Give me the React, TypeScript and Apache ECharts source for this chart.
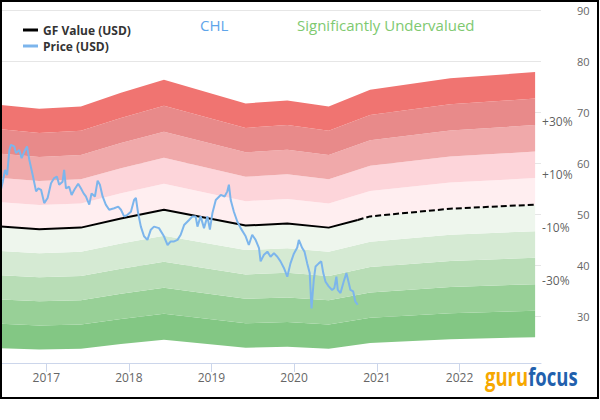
import React, { useEffect, useRef } from 'react';
import * as echarts from 'echarts';

const FONT = '"Open Sans", "DejaVu Sans", sans-serif';

// GF Value (USD)
const gfDates = ['2016-06-15', '2016-12-01', '2017-06-03', '2017-11-27', '2018-06-05', '2019-06-01', '2019-12-02', '2020-06-02', '2020-12-02', '2021-11-21', '2022-12-01'];
const gfValues = [47.6, 47.1, 47.4, 49.2, 50.9, 47.8, 48.2, 47.4, 49.6, 51.1, 51.9];
// point where the solid GF line turns into a dashed projection
const gfSplitDate = '2020-10-08';
const gfSplitValue = 48.9;

// Price (USD)
const priceDates = [
  '2016-06-15','2016-06-23','2016-07-03','2016-07-12','2016-07-22','2016-07-29','2016-08-13','2016-08-20','2016-09-04','2016-09-14','2016-09-26','2016-10-08','2016-10-18','2016-11-02','2016-11-17','2016-11-27','2016-12-09','2016-12-23',
  '2017-01-07','2017-01-22','2017-02-05','2017-02-17','2017-02-27','2017-03-14','2017-03-21','2017-03-29','2017-04-12','2017-04-23','2017-05-05','2017-05-22','2017-06-03','2017-06-15','2017-06-25','2017-07-10','2017-07-20','2017-08-04','2017-08-16','2017-08-26','2017-09-07','2017-09-21','2017-10-06','2017-10-28','2017-11-15','2017-11-27','2017-12-11','2017-12-26',
  '2018-01-10','2018-01-24','2018-02-01','2018-02-11','2018-02-23','2018-03-09','2018-03-24','2018-04-08','2018-04-22','2018-05-14','2018-06-05','2018-06-21','2018-07-05','2018-07-20','2018-08-04','2018-08-18','2018-09-02','2018-09-24','2018-10-09','2018-10-23','2018-10-31','2018-11-14','2018-11-29','2018-12-14','2018-12-25',
  '2019-01-05','2019-01-20','2019-02-11','2019-02-28','2019-03-12','2019-03-19','2019-03-27','2019-04-10','2019-04-25','2019-05-10','2019-06-01','2019-06-15','2019-06-30','2019-07-15','2019-07-30','2019-08-06','2019-08-21','2019-09-05','2019-09-19','2019-10-04','2019-10-19','2019-11-02','2019-11-17','2019-12-02','2019-12-16','2019-12-31',
  '2020-01-15','2020-01-22','2020-02-06','2020-02-16','2020-02-28','2020-03-10','2020-03-18','2020-03-28','2020-04-05','2020-04-19','2020-04-30','2020-05-09','2020-05-19','2020-06-02','2020-06-17','2020-06-27','2020-07-06','2020-07-12','2020-07-24','2020-08-07','2020-08-19','2020-08-30','2020-09-06','2020-09-18','2020-09-28','2020-10-08',
];
const priceValues = [
  54.9, 56.4, 58.7, 57.7, 62.6, 63.6, 63.3, 62.0, 62.6, 61.0, 62.3, 63.3, 60.7, 57.7, 54.5, 55.1, 54.8, 52.2,
  53.2, 56.1, 57.1, 57.4, 55.8, 56.4, 58.7, 55.1, 55.4, 53.8, 54.8, 56.0, 55.1, 54.1, 53.5, 51.9, 54.1, 53.5, 56.6, 55.8, 53.5, 51.9, 50.9, 51.2, 51.5, 50.9, 49.6, 49.9,
  50.5, 52.8, 53.2, 50.2, 47.6, 45.7, 45.0, 47.0, 47.6, 47.3, 45.7, 44.0, 44.7, 44.7, 45.0, 46.0, 47.9, 48.9, 49.6, 49.6, 47.6, 49.6, 47.3, 49.6, 47.0,
  50.2, 52.8, 53.8, 53.5, 54.5, 55.8, 52.8, 50.5, 48.6, 47.3, 45.7, 44.0, 46.0, 45.0, 43.4, 40.8, 42.1, 42.7, 41.7, 42.4, 41.7, 40.8, 39.5, 37.8, 40.4, 42.3,
  43.5, 45.0, 43.4, 42.7, 40.4, 38.5, 31.6, 37.2, 39.8, 40.4, 40.8, 38.5, 36.8, 35.9, 35.2, 35.6, 37.8, 35.2, 34.6, 36.8, 38.5, 36.5, 35.2, 34.9, 32.9, 32.3,
];

// valuation bands: GF Value x (0.5 .. 1.5), bottom to top
const bandBase = 0.5;
const bandStep = 0.1;
const bandColors = ['#83c784', '#98d097', '#b8ddb6', '#d5ead3', '#eef6ed', '#ffeef0', '#fdd5da', '#f0a9aa', '#e88a8a', '#f07471'];

const pctLabels = ['+30%', '+10%', '-10%', '-30%'];
const pctMultipliers = [1.3, 1.1, 0.9, 0.7];

const yearLabels = ['2017', '2018', '2019', '2020', '2021', '2022'];
const yTickLabels = [30, 40, 50, 60, 70, 80, 90];

const xMin = '2016-06-15';
const xMax = '2022-12-27';
const yMin = 20.9;
const yMax = 90;

const ts = (d: string) => +echarts.time.parse(d);

export default function App() {
  const ref = useRef<HTMLDivElement>(null);

  useEffect(() => {
    document.body.style.margin = '0';
    const chart = echarts.init(ref.current!, null, { renderer: 'svg' });

    const yearTicks = yearLabels.map((y) => ts(y + '-01-01'));

    const series: any[] = [];
    series.push({
      type: 'line',
      stack: 'band',
      data: gfDates.map((d, i) => [ts(d), gfValues[i] * bandBase]),
      showSymbol: false,
      lineStyle: { opacity: 0 },
      silent: true,
      z: 1,
    });
    bandColors.forEach((c) => {
      series.push({
        type: 'line',
        stack: 'band',
        data: gfDates.map((d, i) => [ts(d), gfValues[i] * bandStep]),
        showSymbol: false,
        lineStyle: { opacity: 0, width: 0 },
        areaStyle: { color: c, opacity: 1 },
        silent: true,
        z: 1,
      });
    });

    const splitIdx = gfDates.findIndex((d) => d > gfSplitDate);
    const solid: any[] = gfDates.slice(0, splitIdx).map((d, i) => [ts(d), gfValues[i]]);
    solid.push([ts(gfSplitDate), gfSplitValue]);
    const dashed: any[] = [[ts(gfSplitDate), gfSplitValue]];
    for (let i = splitIdx; i < gfDates.length; i++) dashed.push([ts(gfDates[i]), gfValues[i]]);

    series.push({
      name: 'GF Value (USD)',
      type: 'line',
      data: solid,
      showSymbol: false,
      color: '#000',
      lineStyle: { color: '#000', width: 2 },
      z: 3,
    });
    series.push({
      name: 'GF Value (USD)',
      type: 'line',
      data: dashed,
      showSymbol: false,
      color: '#000',
      lineStyle: { color: '#000', width: 2, type: [6, 3] },
      z: 3,
    });
    series.push({
      name: 'Price (USD)',
      type: 'line',
      data: priceDates.map((d, i) => [ts(d), priceValues[i]]),
      showSymbol: false,
      color: '#7cb5ec',
      lineStyle: { color: '#7cb5ec', width: 2 },
      z: 4,
    });

    const lastDate = ts(gfDates[gfDates.length - 1]);
    const lastGF = gfValues[gfValues.length - 1];
    series.push({
      type: 'scatter',
      symbolSize: 0,
      silent: true,
      data: pctLabels.map((t, i) => ({ value: [lastDate, lastGF * pctMultipliers[i]], label: { formatter: t } })),
      label: {
        show: true,
        position: 'right',
        distance: 7,
        offset: [0, -3.5],
        color: '#333',
        fontSize: 12,
        fontFamily: FONT,
      },
      z: 5,
    });

    const option: any = {
      animation: false,
      backgroundColor: '#fff',
      grid: { left: 1, right: 59, top: 10, bottom: 57, containLabel: false },
      legend: {
        data: ['GF Value (USD)', 'Price (USD)'],
        orient: 'vertical',
        left: 15,
        top: 11,
        padding: [13, 8, 8, 8],
        backgroundColor: '#fff',
        icon: 'rect',
        itemWidth: 15,
        itemHeight: 3,
        itemGap: 4,
        selectedMode: false,
        textStyle: { fontWeight: 'bold', fontSize: 12, color: '#333', fontFamily: FONT },
        z: 10,
      },
      xAxis: [
        {
          type: 'time',
          min: ts(xMin),
          max: ts(xMax),
          show: false,
        },
        {
          type: 'value',
          position: 'bottom',
          min: ts(xMin),
          max: ts(xMax),
          axisLine: { show: true, lineStyle: { color: '#ccd6eb', width: 1 } },
          axisTick: { show: true, length: 9, lineStyle: { color: '#ccd6eb' }, customValues: yearTicks },
          axisLabel: {
            customValues: yearTicks,
            formatter: (v: number) => String(new Date(v).getFullYear()),
            color: '#666',
            fontSize: 12,
            margin: 8,
            fontFamily: FONT,
          },
          splitLine: { show: false },
        },
      ],
      yAxis: {
        type: 'value',
        position: 'right',
        min: yMin,
        max: yMax,
        splitNumber: 7,
        axisLine: { show: false },
        axisTick: { show: false },
        axisLabel: {
          formatter: (v: number) => (yTickLabels.indexOf(Math.round(v * 1000) / 1000) >= 0 ? String(v) : ''),
          color: '#666',
          fontSize: 11,
          margin: 36,
          fontFamily: FONT,
        },
        splitLine: { show: true, lineStyle: { color: '#e6e6e6', width: 1 } },
      },
      graphic: [
        {
          type: 'text',
          x: 200,
          y: 25,
          style: { text: 'CHL', fill: '#5ea5ea', font: '15px ' + FONT, textAlign: 'left', textVerticalAlign: 'middle', align: 'left', verticalAlign: 'middle' },
          z: 10,
        },
        {
          type: 'text',
          x: 297,
          y: 25,
          style: { text: 'Significantly Undervalued', fill: '#7ec970', font: '15px ' + FONT, textAlign: 'left', textVerticalAlign: 'middle', align: 'left', verticalAlign: 'middle' },
          z: 10,
        },
        {
          type: 'text',
          x: 485,
          y: 376,
          scaleX: 0.74,
          style: {
            text: '{a|guru}{b|focus}',
            rich: {
              a: { fill: '#f6a800', color: '#f6a800', font: 'bold 25px ' + FONT },
              b: { fill: '#2160ad', color: '#2160ad', font: 'bold 25px ' + FONT },
            },
            textAlign: 'left', textVerticalAlign: 'middle', align: 'left', verticalAlign: 'middle',
          },
          z: 10,
        },
        {
          type: 'rect',
          shape: { x: 1, y: 1, width: 597, height: 397 },
          style: { fill: 'none', stroke: '#000', lineWidth: 2 },
          silent: true,
          z: 20,
        },
      ],
      series,
    };

    chart.setOption(option);
    return () => chart.dispose();
  }, []);

  return <div ref={ref} style={{ width: 600, height: 420 }} />;
}
